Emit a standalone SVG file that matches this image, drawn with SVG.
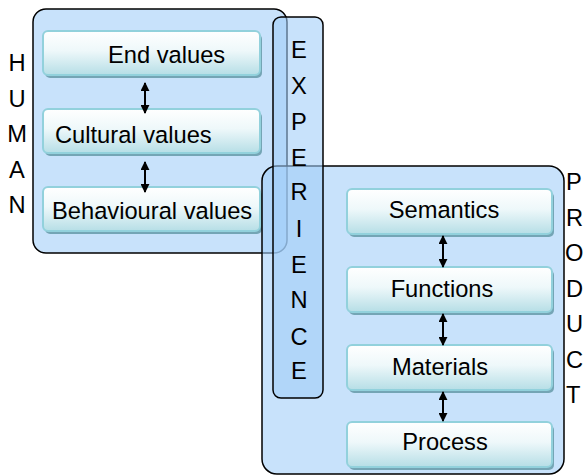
<svg xmlns="http://www.w3.org/2000/svg" width="584" height="476" viewBox="0 0 584 476">
<defs>
<linearGradient id="boxg" x1="0" y1="0" x2="0" y2="1">
<stop offset="0" stop-color="#ffffff"/>
<stop offset="0.45" stop-color="#eef8fa"/>
<stop offset="1" stop-color="#b6dee6"/>
</linearGradient>
<marker id="ah" viewBox="0 0 10 10" refX="9" refY="5" markerWidth="4.5" markerHeight="4.5" orient="auto-start-reverse">
<path d="M0,0 L10,5 L0,10 Z" fill="#000"/>
</marker>
</defs>
<style>
.cont{fill:rgb(160,205,248);fill-opacity:0.58;stroke:#000;stroke-width:1.5}
.sh{fill:#74a5b5}
.bx{fill:url(#boxg);stroke:#92d1dc;stroke-width:2}
.t{font-family:"Liberation Sans",Arial,sans-serif;font-size:23.7px;fill:#000}
.m{text-anchor:middle}
.ar{stroke:#000;stroke-width:2;fill:none;marker-start:url(#ah);marker-end:url(#ah)}
</style>
<rect width="584" height="476" fill="#fff"/>
<g id="human">
<rect class="cont" x="33" y="9" width="254" height="244" rx="13"/>
<g class="t m">
<text x="17" y="71">H</text>
<text x="17" y="106.5">U</text>
<text x="17" y="142">M</text>
<text x="17" y="177.5">A</text>
<text x="17" y="213">N</text>
</g>
</g>
<g id="end-values">
<rect class="sh" x="45" y="34" width="217" height="44" rx="5"/>
<rect class="bx" x="43" y="31" width="217" height="44" rx="5"/>
<text class="t" x="108" y="63">End values</text>
</g>
<g id="cultural-values">
<rect class="sh" x="45" y="112" width="217" height="44" rx="5"/>
<rect class="bx" x="43" y="109" width="217" height="44" rx="5"/>
<text class="t" x="55" y="143">Cultural values</text>
</g>
<g id="behavioural-values">
<rect class="sh" x="45" y="190" width="217" height="44" rx="5"/>
<rect class="bx" x="43" y="187" width="217" height="44" rx="5"/>
<text class="t" x="52" y="219">Behavioural values</text>
</g>
<g id="product">
<rect class="cont" x="262" y="166" width="302" height="308" rx="15"/>
<g class="t">
<text x="566" y="190">P</text>
<text x="566" y="225.5">R</text>
<text x="565" y="261">O</text>
<text x="566" y="296.5">D</text>
<text x="566" y="332">U</text>
<text x="566" y="367.5">C</text>
<text x="566" y="403">T</text>
</g>
</g>
<g id="semantics">
<rect class="sh" x="349" y="192" width="205" height="45" rx="5"/>
<rect class="bx" x="347" y="189" width="205" height="45" rx="5"/>
<text class="t m" x="444" y="218">Semantics</text>
</g>
<g id="functions">
<rect class="sh" x="349" y="270" width="205" height="45" rx="5"/>
<rect class="bx" x="347" y="267" width="205" height="45" rx="5"/>
<text class="t m" x="442" y="297">Functions</text>
</g>
<g id="materials">
<rect class="sh" x="349" y="348" width="205" height="45" rx="5"/>
<rect class="bx" x="347" y="345" width="205" height="45" rx="5"/>
<text class="t m" x="440" y="375">Materials</text>
</g>
<g id="process">
<rect class="sh" x="349" y="425" width="205" height="45" rx="5"/>
<rect class="bx" x="347" y="422" width="205" height="45" rx="5"/>
<text class="t m" x="445" y="450">Process</text>
</g>
<g id="experience">
<rect class="cont" x="273" y="17" width="50" height="381" rx="8"/>
<g class="t m">
<text x="299" y="58">E</text>
<text x="299" y="94">X</text>
<text x="299" y="130">P</text>
<text x="299" y="166">E</text>
<text x="299" y="200">R</text>
<text x="299" y="237">I</text>
<text x="299" y="273">E</text>
<text x="299" y="308">N</text>
<text x="299" y="345">C</text>
<text x="299" y="379">E</text>
</g>
</g>
<g id="connectors">
<line class="ar" x1="145" y1="83" x2="145" y2="113"/>
<line class="ar" x1="145" y1="162" x2="145" y2="192"/>
<line class="ar" x1="443" y1="236" x2="443" y2="267"/>
<line class="ar" x1="443" y1="314" x2="443" y2="345"/>
<line class="ar" x1="443" y1="392" x2="443" y2="421"/>
</g>
</svg>
